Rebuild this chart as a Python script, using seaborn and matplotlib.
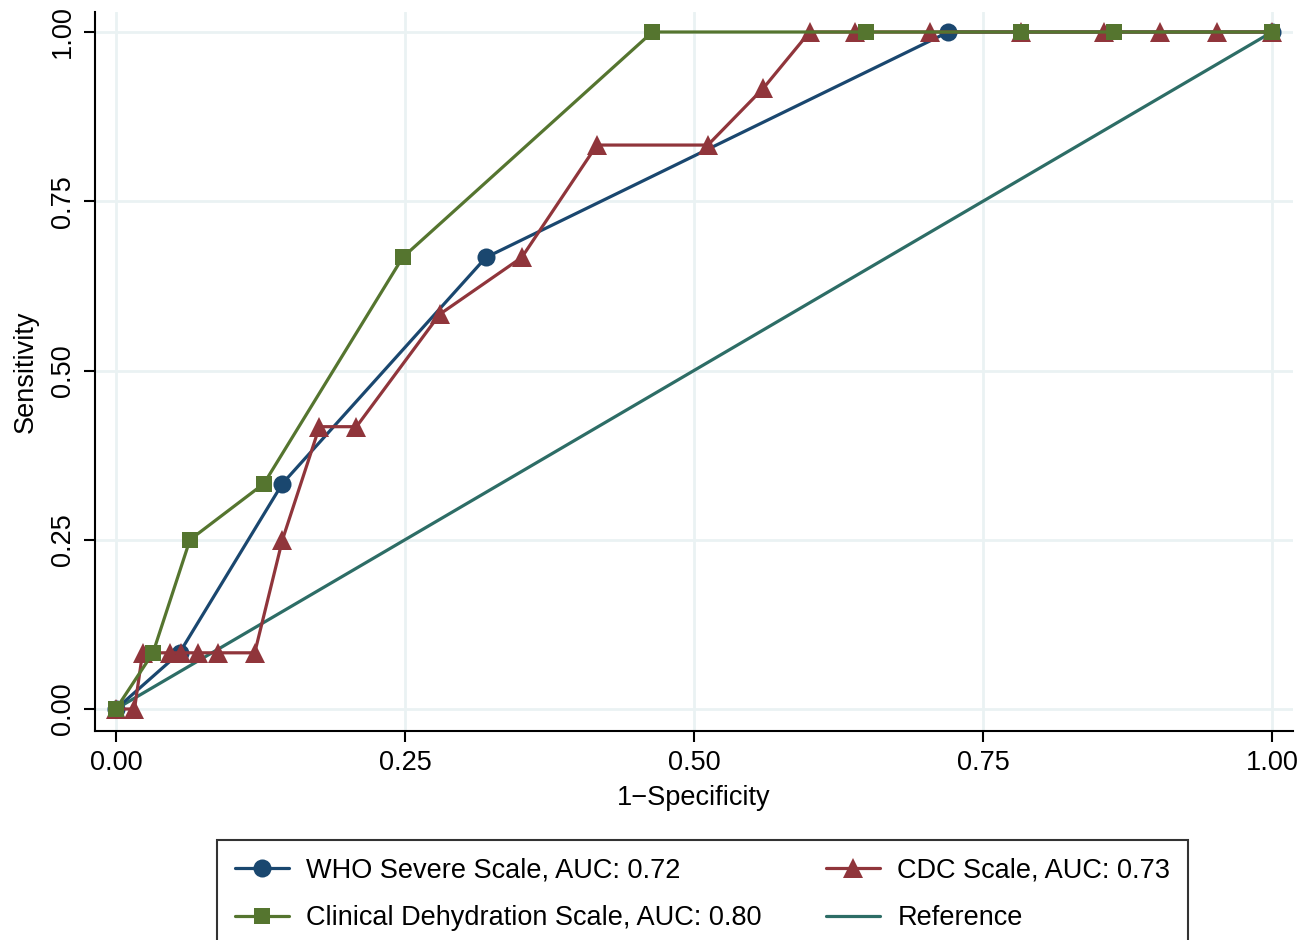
import matplotlib
matplotlib.use("Agg")
import matplotlib.pyplot as plt
import seaborn as sns
import pandas as pd

who_x = [0.0, 0.055, 0.144, 0.320, 0.720, 1.0]
who_y = [0.0, 0.083, 0.333, 0.667, 1.0, 1.0]

cds_x = [0.0, 0.032, 0.064, 0.128, 0.248, 0.464, 0.649, 0.783, 0.863, 1.0]
cds_y = [0.0, 0.083, 0.250, 0.333, 0.667, 1.0, 1.0, 1.0, 1.0, 1.0]

cdc_x = [0.0, 0.016, 0.023, 0.047, 0.056, 0.071, 0.088, 0.120, 0.144, 0.176, 0.208,
         0.280, 0.351, 0.416, 0.512, 0.560, 0.600, 0.639, 0.704, 0.783, 0.855,
         0.903, 0.952, 1.0]
cdc_y = [0.0, 0.0, 0.083, 0.083, 0.083, 0.083, 0.083, 0.083, 0.250, 0.417, 0.417,
         0.583, 0.667, 0.833, 0.833, 0.917, 1.0, 1.0, 1.0, 1.0, 1.0,
         1.0, 1.0, 1.0]

ref_x = [0.0, 1.0]
ref_y = [0.0, 1.0]

labels = ["WHO Severe Scale, AUC: 0.72", "Clinical Dehydration Scale, AUC: 0.80",
          "CDC Scale, AUC: 0.73", "Reference"]
ticks = [0.0, 0.25, 0.5, 0.75, 1.0]
tick_labels = ["0.00", "0.25", "0.50", "0.75", "1.00"]

sns.set_theme(style="white")
plt.rcParams['font.family'] = ['Liberation Sans', 'DejaVu Sans']
plt.rcParams['text.color'] = 'black'
plt.rcParams['legend.labelcolor'] = 'black'

fig = plt.figure(figsize=(13.09, 9.40), dpi=100)
ax = fig.add_axes([95/1309, 1-731/940, (1293-95)/1309, (731-12)/940])

c_who = "#1a476f"
c_cds = "#55752f"
c_cdc = "#90353b"
c_ref = "#2d6d66"

fs = 19.5
lw = 2.3
sns.lineplot(x=who_x, y=who_y, sort=False, estimator=None, ax=ax, color=c_who,
             lw=lw, marker="o", markersize=13, markeredgewidth=0, label=labels[0], zorder=3)
sns.lineplot(x=cds_x, y=cds_y, sort=False, estimator=None, ax=ax, color=c_cds,
             lw=lw, marker="s", markersize=12, markeredgewidth=0, label=labels[1], zorder=4)
sns.lineplot(x=cdc_x, y=cdc_y, sort=False, estimator=None, ax=ax, color=c_cdc,
             lw=lw, marker="^", markersize=14.5, markeredgewidth=0, label=labels[2], zorder=3)
sns.lineplot(x=ref_x, y=ref_y, sort=False, estimator=None, ax=ax, color=c_ref,
             lw=lw, label=labels[3], zorder=2)

ax.set_xlim(-21/1156, 1 + 21/1156)
ax.set_ylim(-22/677, 1 + 20/677)
ax.set_xticks(ticks)
ax.set_xticklabels(tick_labels)
ax.set_yticks(ticks)
ax.set_yticklabels(tick_labels, rotation=90, va="center")
ax.grid(True, color="#eaf2f3", lw=2)
ax.set_axisbelow(True)
for s in ["top", "right"]:
    ax.spines[s].set_visible(False)
for s in ["left", "bottom"]:
    ax.spines[s].set_color("black")
    ax.spines[s].set_linewidth(1.5)
ax.tick_params(axis="both", which="major", length=8, width=1.5, color="black",
               labelsize=fs, labelcolor="black", direction="out", pad=6, left=True, bottom=True)
ax.set_xlabel("1\u2212Specificity", fontsize=fs, color="black", labelpad=6)
ax.set_ylabel("Sensitivity", fontsize=fs, color="black", labelpad=8)

h, l = ax.get_legend_handles_labels()
ax.get_legend().remove()
leg = fig.legend(h, l, ncol=2, loc="upper left", bbox_to_anchor=(217/1309, 1-840/940),
                 frameon=True, fancybox=False, fontsize=fs, handlelength=2.0,
                 columnspacing=2.35, borderpad=0.65, labelspacing=0.8, handletextpad=0.65,
                 borderaxespad=0, labelcolor="black")
leg.get_frame().set_edgecolor("black")
leg.get_frame().set_linewidth(1.5)

fig.savefig("out.png", dpi=100, facecolor="white")
